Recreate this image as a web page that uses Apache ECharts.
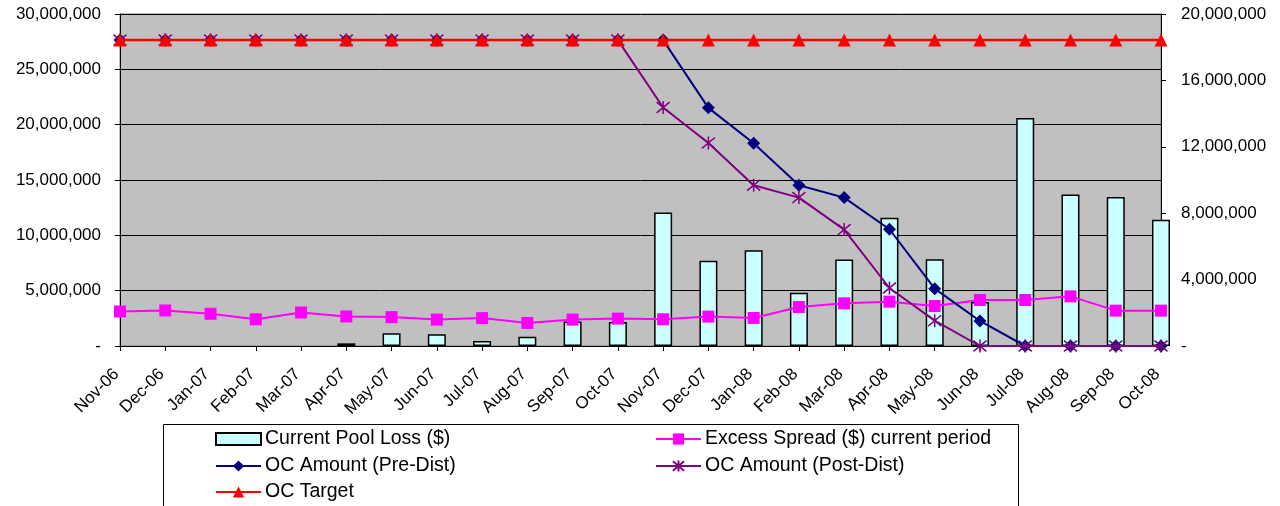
<!DOCTYPE html>
<html>
<head>
<meta charset="utf-8">
<script src="https://cdn.jsdelivr.net/npm/echarts@6/dist/echarts.min.js"></script>
<style>
html,body{margin:0;padding:0;background:#fff;}
#chart{width:1280px;height:506px;}
</style>
</head>
<body>
<div id="chart"></div>
<script>
const categories = ['Nov-06','Dec-06','Jan-07','Feb-07','Mar-07','Apr-07','May-07','Jun-07','Jul-07','Aug-07','Sep-07','Oct-07','Nov-07','Dec-07','Jan-08','Feb-08','Mar-08','Apr-08','May-08','Jun-08','Jul-08','Aug-08','Sep-08','Oct-08'];

// right axis (0 - 20,000,000)
const poolLoss = [null,null,null,null,null,160000,770000,710000,300000,550000,1470000,1440000,8040000,5130000,5770000,3210000,5210000,7730000,5230000,2650000,13730000,9120000,8980000,7610000];
const excessSpread = [2080000,2140000,1940000,1610000,2020000,1780000,1740000,1590000,1680000,1390000,1590000,1650000,1610000,1770000,1690000,2350000,2570000,2670000,2410000,2770000,2770000,2990000,2130000,2130000];

// left axis (0 - 30,000,000)
const ocPre = [27640000,27640000,27640000,27640000,27640000,27640000,27640000,27640000,27640000,27640000,27640000,27640000,27640000,21520000,18320000,14530000,13410000,10550000,5180000,2260000,0,0,0,0];
const ocPost = [27640000,27640000,27640000,27640000,27640000,27640000,27640000,27640000,27640000,27640000,27640000,27640000,21550000,18350000,14530000,13410000,10520000,5240000,2290000,0,0,0,0,0];
const ocTarget = [27640000,27640000,27640000,27640000,27640000,27640000,27640000,27640000,27640000,27640000,27640000,27640000,27640000,27640000,27640000,27640000,27640000,27640000,27640000,27640000,27640000,27640000,27640000,27640000];

const seriesNames = ['Current Pool Loss ($)','Excess Spread ($) current period','OC Amount (Pre-Dist)','OC Amount (Post-Dist)','OC Target'];

function fmt(v){
  if (v === 0) return '-';
  return String(v).replace(/\B(?=(\d{3})+(?!\d))/g, ',');
}
const FONT = 'Liberation Sans';
const asterisk = 'path://M0,0L10,10M10,0L0,10M5,-1L5,11';

function leg(name, left, top, icon){
  const o = {left:left,top:top,orient:'horizontal',itemWidth:45,itemHeight:14,itemGap:0,
    padding:0,textStyle:{fontFamily:FONT,fontSize:19.5,color:'#000',padding:[0,0,0,-1]},
    data:[icon ? {name:name,icon:icon,itemStyle:{borderWidth:2}} : name]};
  if (icon) { o.itemHeight = 12; }
  return o;
}

const chart = echarts.init(document.getElementById('chart'), null, {renderer:'canvas'});
chart.setOption({
  animation:false,
  backgroundColor:'#ffffff',
  textStyle:{fontFamily:FONT},
  grid:{left:120,right:119,top:14,bottom:160,show:true,backgroundColor:'#C0C0C0',borderColor:'#808080',borderWidth:1},
  graphic:[{type:'rect',left:163,top:424,shape:{width:855,height:100},style:{fill:'#ffffff',stroke:'#000000',lineWidth:1},z:0}],
  legend:[
    leg(seriesNames[0],215,429,'rect'),
    leg(seriesNames[2],215,456),
    leg(seriesNames[4],215,482),
    leg(seriesNames[1],655,429),
    leg(seriesNames[3],655,456)
  ],
  xAxis:{type:'category',data:categories,boundaryGap:false,
    axisLine:{lineStyle:{color:'#000',width:1}},
    axisTick:{show:true,length:5,interval:0,lineStyle:{color:'#000'}},
    axisLabel:{rotate:45,interval:0,fontFamily:FONT,fontSize:17,color:'#000',margin:22,padding:[0,5,0,0]},
    splitLine:{show:false}},
  yAxis:[
    {type:'value',min:0,max:30000000,interval:5000000,position:'left',
     axisLine:{show:true,lineStyle:{color:'#000'}},
     axisTick:{show:true,length:5,lineStyle:{color:'#000'}},
     axisLabel:{formatter:fmt,fontFamily:FONT,fontSize:17,color:'#000',margin:19},
     splitLine:{show:true,lineStyle:{color:'#000',width:1}}},
    {type:'value',min:0,max:20000000,interval:4000000,position:'right',
     axisLine:{show:true,lineStyle:{color:'#000'}},
     axisTick:{show:true,length:5,lineStyle:{color:'#000'}},
     axisLabel:{formatter:fmt,fontFamily:FONT,fontSize:17,color:'#000',margin:20},
     splitLine:{show:false}}
  ],
  series:[
    {name:seriesNames[0],type:'bar',yAxisIndex:1,data:poolLoss,barWidth:18,
     itemStyle:{color:'#CCFFFF',borderColor:'#000',borderWidth:1.5},z:2},
    {name:seriesNames[1],type:'line',yAxisIndex:1,data:excessSpread,
     symbol:'rect',symbolSize:12,lineStyle:{color:'#FF00FF',width:2},
     itemStyle:{color:'#FF00FF'},z:3},
    {name:seriesNames[2],type:'line',yAxisIndex:0,data:ocPre,
     symbol:'diamond',symbolSize:13,lineStyle:{color:'#000080',width:2},
     itemStyle:{color:'#000080'},z:4},
    {name:seriesNames[3],type:'line',yAxisIndex:0,data:ocPost,
     symbol:asterisk,symbolSize:13,lineStyle:{color:'#800080',width:2},
     itemStyle:{color:'#800080',borderColor:'#800080',borderWidth:1.5},z:5},
    {name:seriesNames[4],type:'line',yAxisIndex:0,data:ocTarget,
     symbol:'triangle',symbolSize:13,lineStyle:{color:'#FF0000',width:2.5},
     itemStyle:{color:'#FF0000'},z:6}
  ]
});
</script>
</body>
</html>
